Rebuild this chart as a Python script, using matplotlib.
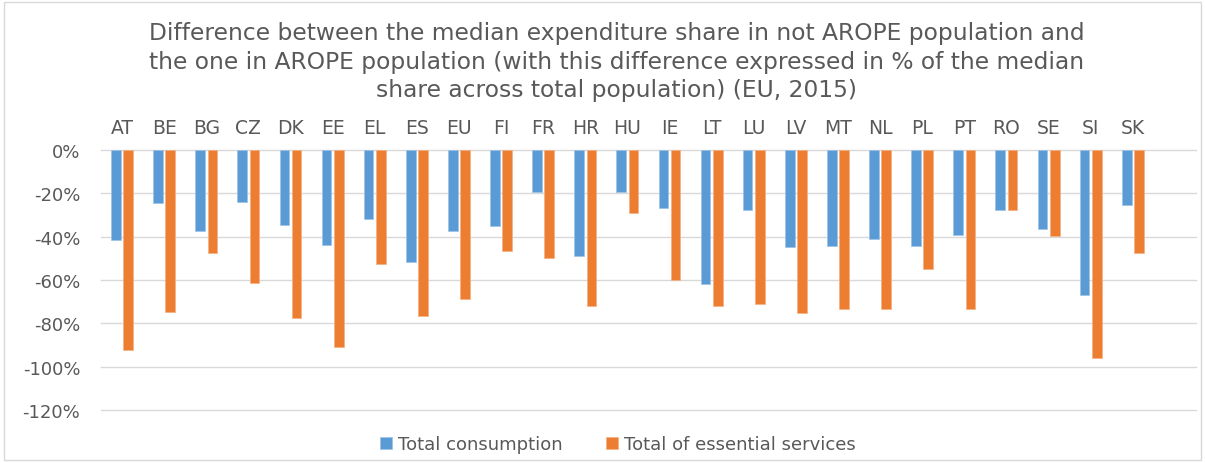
import numpy as np
import matplotlib.pyplot as plt
from matplotlib.patches import Rectangle

# valores (% do valor mediano)
paises = ['AT', 'BE', 'BG', 'CZ', 'DK', 'EE', 'EL', 'ES', 'EU', 'FI', 'FR', 'HR', 'HU',
          'IE', 'LT', 'LU', 'LV', 'MT', 'NL', 'PL', 'PT', 'RO', 'SE', 'SI', 'SK']
consumoTotal = [-41.5, -24.6, -37.5, -24.0, -34.8, -43.8, -31.8, -51.7, -37.5, -35.2, -19.4, -48.8, -19.4,
                -26.8, -61.8, -27.7, -44.8, -44.2, -40.9, -44.3, -39.2, -27.7, -36.3, -66.8, -25.5]
servicosEssenciais = [-92.3, -74.9, -47.7, -61.4, -77.7, -90.8, -52.8, -76.6, -68.8, -46.6, -50.0, -72.0, -29.1,
                      -60.2, -72.0, -70.9, -75.4, -73.2, -73.2, -55.1, -73.2, -27.7, -39.7, -95.8, -47.7]
ticksY = [0, -20, -40, -60, -80, -100, -120]

azul = '#5B9BD5'
laranja = '#ED7D31'
cinza = '#595959'

plt.rcParams['font.family'] = ['DejaVu Sans']

fig = plt.figure(figsize=(12.05, 4.64), dpi=100)
ax = fig.add_axes([0.0838, 0.1142, 0.9087, 0.5604])

x = np.arange(len(paises))
largura = 0.23
ax.bar(x - 0.145, consumoTotal, width=largura, color=azul, edgecolor='#9DC3E6',
       linewidth=0.5, label='Total consumption', zorder=3)
ax.bar(x + 0.145, servicosEssenciais, width=largura, color=laranja, edgecolor='#F4B183',
       linewidth=0.5, label='Total of essential services', zorder=3)

ax.set_xlim(-0.5, len(paises) + 0.5)
ax.set_ylim(-120, 0)
ax.set_yticks(ticksY)
ax.set_yticklabels(['%d%%' % v for v in ticksY], color=cinza, fontsize=13)
ax.set_xticks(x)
ax.set_xticklabels(paises, color=cinza, fontsize=13.5)
ax.xaxis.tick_top()
ax.tick_params(axis='both', length=0)
ax.tick_params(axis='x', pad=9)
ax.tick_params(axis='y', pad=15)
for lado in ax.spines.values():
    lado.set_visible(False)
ax.grid(axis='y', color='#d9d9d9', linewidth=1, zorder=0)
for gl in ax.get_ygridlines():
    gl.set_clip_on(False)

fig.text(0.512, 0.866, 'Difference between the median expenditure share in not AROPE population and\n'
         'the one in AROPE population (with this difference expressed in % of the median\n'
         'share across total population) (EU, 2015)',
         ha='center', va='center', fontsize=16.8, color=cinza, linespacing=1.3)

fig.legend(loc='center', bbox_to_anchor=(0.513, 0.041), ncol=2, frameon=False,
           fontsize=13, labelcolor=cinza, handlelength=0.65, handleheight=0.65,
           handletextpad=0.35, columnspacing=2.4)

fig.add_artist(Rectangle((0.003, 0.006), 0.994, 0.988, transform=fig.transFigure,
                         fill=False, edgecolor='#d9d9d9', linewidth=1))

fig.savefig('out.png', dpi=100)
